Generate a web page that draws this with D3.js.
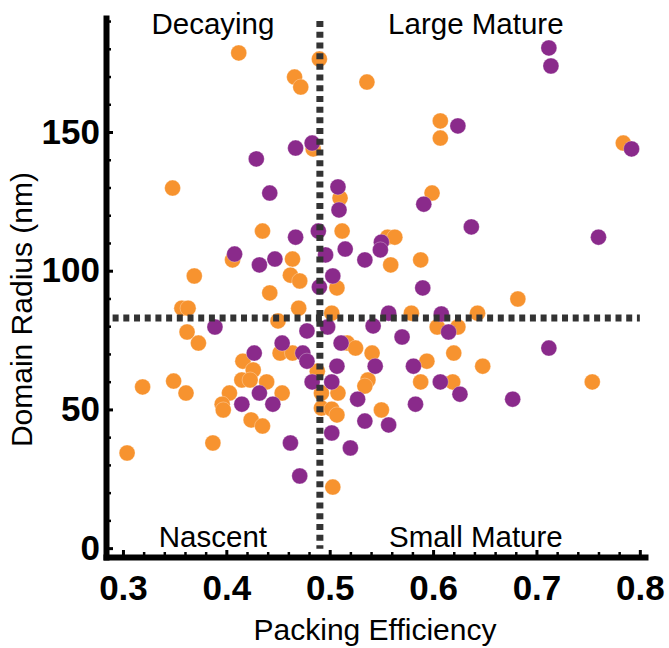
<!DOCTYPE html>
<html>
<head>
<meta charset="utf-8">
<script src="https://cdn.jsdelivr.net/npm/d3@7"></script>
<style>
  body { margin: 0; background: #fff; }
  svg text { font-family: "Liberation Sans", Arial, sans-serif; fill: #000; }
  .tick-lbl text { font-weight: bold; font-size: 35px; }
</style>
</head>
<body>
<svg id="chart" width="669" height="648"></svg>
<script>
// packing efficiency / domain radius, two groups
const orangeEff = [0.412, 0.490, 0.466, 0.472, 0.484, 0.348, 0.435, 0.406, 0.464, 0.462,
  0.471, 0.369, 0.442, 0.357, 0.363, 0.470, 0.536, 0.607, 0.607, 0.784,
  0.510, 0.599, 0.512, 0.556, 0.563, 0.559, 0.588, 0.507, 0.682, 0.502,
  0.579, 0.643, 0.450, 0.604, 0.624, 0.362, 0.373, 0.517, 0.525, 0.541,
  0.620, 0.452, 0.464, 0.416, 0.426, 0.594, 0.648, 0.488, 0.415, 0.423,
  0.439, 0.537, 0.534, 0.588, 0.619, 0.754, 0.319, 0.349, 0.361, 0.403,
  0.454, 0.492, 0.508, 0.396, 0.397, 0.492, 0.502, 0.507, 0.550, 0.424,
  0.435, 0.387, 0.304, 0.503];
const orangeRad = [178.5, 176.3, 169.8, 166.2, 143.9, 129.8, 114.3, 103.9, 104.2, 98.4,
  96.3, 98.1, 92.0, 86.5, 86.5, 86.5, 168.0, 154.0, 147.8, 146.0,
  126.2, 128.0, 114.3, 112.1, 112.1, 102.1, 103.9, 93.8, 89.8, 84.7,
  84.7, 84.7, 81.9, 79.7, 79.7, 77.9, 73.9, 73.9, 72.1, 70.3,
  70.3, 70.3, 70.3, 67.4, 64.2, 67.4, 65.6, 63.8, 60.6, 60.6,
  59.9, 60.6, 58.4, 59.9, 59.9, 59.9, 58.1, 60.2, 55.9, 55.9,
  55.9, 55.9, 55.9, 51.9, 49.8, 50.5, 50.1, 48.0, 49.8, 46.2,
  44.0, 37.9, 34.3, 22.0];

const purpleEff = [0.712, 0.714, 0.483, 0.467, 0.429, 0.442, 0.467, 0.489, 0.408, 0.432,
  0.447, 0.490, 0.496, 0.503, 0.508, 0.509, 0.515, 0.534, 0.550, 0.549,
  0.590, 0.591, 0.624, 0.637, 0.760, 0.792, 0.557, 0.608, 0.389, 0.478,
  0.498, 0.542, 0.615, 0.570, 0.511, 0.454, 0.427, 0.474, 0.478, 0.712,
  0.507, 0.544, 0.581, 0.483, 0.502, 0.607, 0.432, 0.527, 0.626, 0.677,
  0.415, 0.445, 0.583, 0.534, 0.557, 0.502, 0.462, 0.520, 0.471];
const purpleRad = [180.3, 173.8, 146.0, 144.2, 140.3, 128.0, 112.1, 114.3, 106.0, 102.1,
  104.2, 94.1, 105.7, 98.1, 130.2, 121.9, 107.8, 103.9, 110.3, 107.5,
  93.8, 124.0, 152.2, 115.8, 112.1, 143.9, 84.7, 84.4, 79.7, 78.3,
  79.7, 80.1, 77.9, 76.1, 73.9, 73.9, 70.3, 70.3, 67.4, 72.1,
  65.6, 65.6, 65.6, 59.9, 59.9, 59.9, 55.9, 53.7, 55.5, 53.7,
  51.9, 51.9, 51.9, 45.8, 44.4, 41.5, 37.9, 36.1, 26.0];

const xTicks = [0.3, 0.4, 0.5, 0.6, 0.7, 0.8];
const yTicks = [0, 50, 100, 150];
const effCut = 0.4905;
const radCut = 83;
const quadrants = [
  { name: "Decaying", pos: "tl" },
  { name: "Large Mature", pos: "tr" },
  { name: "Nascent", pos: "bl" },
  { name: "Small Mature", pos: "br" }
];

const svg = d3.select("#chart");
const x = d3.scaleLinear([0.2836, 0.805], [106, 645]);
const y = d3.scaleLinear([-3.2, 191.1], [557, 18]);

const toPts = (xs, ys) => xs.map((v, i) => ({ eff: v, rad: ys[i] }));

// points: orange first, purple on top
const groups = [
  { pts: toPts(orangeEff, orangeRad), color: "#F7932F" },
  { pts: toPts(purpleEff, purpleRad), color: "#8A2A8B" }
];
groups.forEach((g) => {
  svg.append("g")
    .selectAll("circle")
    .data(g.pts)
    .join("circle")
    .attr("cx", (d) => x(d.eff))
    .attr("cy", (d) => y(d.rad))
    .attr("r", 8)
    .attr("fill", g.color)
    .attr("stroke", "#fff")
    .attr("stroke-opacity", 0.5)
    .attr("stroke-width", 0.6);
});

// dashed quadrant lines
const dash = svg.append("g")
  .attr("stroke", "#333")
  .attr("stroke-width", 7)
  .attr("stroke-dasharray", "6,4.7");
dash.append("line")
  .attr("x1", x(effCut)).attr("x2", x(effCut))
  .attr("y1", y(190)).attr("y2", y(-0.2));
dash.append("line")
  .attr("x1", x(0.29)).attr("x2", x(0.8))
  .attr("y1", y(radCut)).attr("y2", y(radCut));

// minor ticks
const xMinor = d3.range(0.3, 0.801, 0.02).filter((v) => Math.abs(v * 10 - Math.round(v * 10)) > 1e-6);
const yMinor = d3.range(10, 191, 10).filter((v) => v % 50 !== 0);

const xMinorAxis = svg.append("g")
  .attr("transform", "translate(0,557)")
  .call(d3.axisBottom(x).tickValues(xMinor).tickSize(-5).tickSizeOuter(0).tickFormat(""));
const yMinorAxis = svg.append("g")
  .attr("transform", "translate(106,0)")
  .call(d3.axisLeft(y).tickValues(yMinor).tickSize(-5).tickSizeOuter(0).tickFormat(""));
[xMinorAxis, yMinorAxis].forEach((a) => {
  a.select(".domain").remove();
  a.selectAll("line").attr("stroke", "#000").attr("stroke-width", 2.5);
});

// main axes
const xAxis = svg.append("g")
  .attr("class", "tick-lbl")
  .attr("transform", "translate(0,557)")
  .call(d3.axisBottom(x).tickValues(xTicks).tickSize(-7).tickSizeOuter(0).tickPadding(18)
    .tickFormat(d3.format(".1f")));
const yAxis = svg.append("g")
  .attr("class", "tick-lbl")
  .attr("transform", "translate(106,0)")
  .call(d3.axisLeft(y).tickValues(yTicks).tickSize(-7).tickSizeOuter(0).tickPadding(6)
    .tickFormat(d3.format("d")));
[xAxis, yAxis].forEach((a) => {
  a.attr("font-family", null).attr("font-size", null);
  a.select(".domain").attr("stroke", "#000").attr("stroke-width", 6).attr("stroke-linecap", "square");
  a.selectAll("line").attr("stroke", "#000").attr("stroke-width", 3);
});

// axis titles
svg.append("text")
  .attr("x", 375).attr("y", 640)
  .attr("text-anchor", "middle")
  .attr("font-size", 30)
  .text("Packing Efficiency");
svg.append("text")
  .attr("transform", "translate(32," + y(radCut + 3) + ") rotate(-90)")
  .attr("text-anchor", "middle")
  .attr("font-size", 30)
  .text("Domain Radius (nm)");

// quadrant labels
const qx = { l: (106 + x(effCut)) / 2, r: (x(effCut) + x(0.8)) / 2 - 4 };
svg.append("g")
  .selectAll("text")
  .data(quadrants)
  .join("text")
  .attr("x", (d) => (d.pos[1] === "l" ? qx.l : qx.r))
  .attr("y", (d) => (d.pos[0] === "t" ? 34 : 547))
  .attr("text-anchor", "middle")
  .attr("font-size", 29.5)
  .text((d) => d.name);
</script>
</body>
</html>
